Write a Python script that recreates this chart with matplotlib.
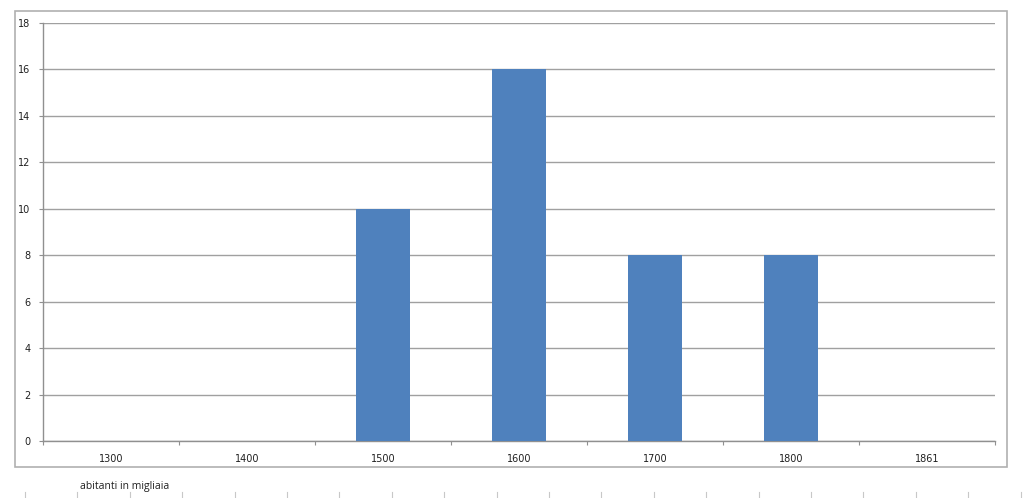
import numpy as np
import matplotlib
matplotlib.use("Agg")
import matplotlib.pyplot as plt
from matplotlib.patches import Rectangle
from matplotlib.lines import Line2D

# data
anni = ['1300', '1400', '1500', '1600', '1700', '1800', '1861']
abitanti = [0, 0, 10, 16, 8, 8, 0]
y_ticks = [0, 2, 4, 6, 8, 10, 12, 14, 16, 18]

bar_col = '#4F81BD'
grid_col = '#A0A0A0'

W, H = 1024, 498
fig = plt.figure(figsize=(W / 100, H / 100), dpi=100)
fig.patch.set_facecolor('white')

# outer chart border
fig.patches.append(Rectangle((15 / W, 1 - 467 / H), (1007 - 15) / W, (467 - 11) / H,
                             transform=fig.transFigure, fill=False,
                             edgecolor='#B0B0B0', linewidth=1.2))

ax = fig.add_axes([43 / W, 1 - 441 / H, (995 - 43) / W, (441 - 23) / H])
x = np.arange(len(anni))
ax.bar(x, abitanti, width=0.4, color=bar_col, zorder=3)

ax.set_xlim(-0.5, len(anni) - 0.5)
ax.set_ylim(0, 18)
ax.set_yticks(y_ticks)
ax.yaxis.grid(True, color=grid_col, linewidth=1.0, zorder=0)

# category boundaries get the tick marks, labels sit in the middle
ax.set_xticks(np.arange(-0.5, len(anni), 1.0))
ax.set_xticklabels([])
ax.set_xticks(x, minor=True)
ax.set_xticklabels(anni, minor=True)
ax.tick_params(axis='x', which='minor', length=0, pad=9, labelsize=7, labelcolor='#202020')
ax.tick_params(axis='x', which='major', length=3, color='#909090', direction='out')
ax.tick_params(axis='y', length=3, color='#909090', labelsize=7, pad=6, labelcolor='#202020')

for s in ['top', 'right']:
    ax.spines[s].set_visible(False)
for s in ['left', 'bottom']:
    ax.spines[s].set_color('#909090')
    ax.spines[s].set_linewidth(1.0)

fig.text(80 / W, 1 - 486 / H, 'abitanti in migliaia', fontsize=7.5,
         family='Open Sans', va='center', ha='left', color='#202020')

# faint tick row at the very bottom
for i in range(20):
    px = 25 + i * 52.4
    fig.lines.append(Line2D([px / W, px / W], [1 - 498 / H, 1 - 492 / H],
                            transform=fig.transFigure, color='#C8C8C8', linewidth=0.8))

fig.savefig('out.png', dpi=100)
